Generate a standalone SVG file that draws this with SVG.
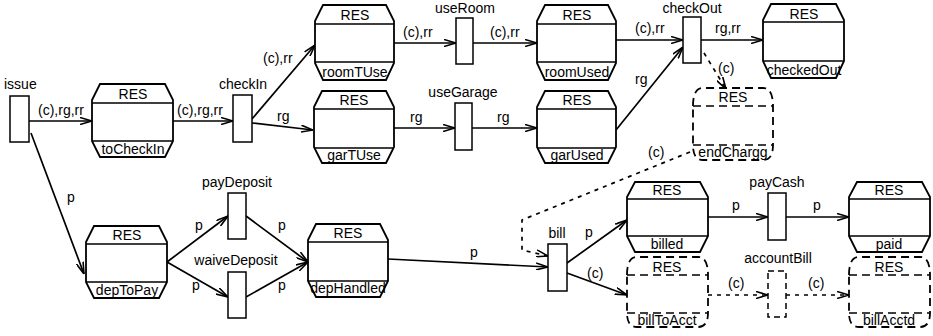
<svg xmlns="http://www.w3.org/2000/svg" width="933" height="336" viewBox="0 0 933 336">
<defs>
<marker id="ah" viewBox="0 0 12 8" refX="12" refY="4" markerWidth="12" markerHeight="8" markerUnits="userSpaceOnUse" orient="auto">
<path d="M0,0.5 L12,4 L0,7.5" fill="none" stroke="#000" stroke-width="1.6"/>
</marker>
<style>
text{font-family:"Liberation Sans",Arial,sans-serif;font-size:14px;fill:#000}
.c{text-anchor:middle}
.n{fill:#fff;stroke:#000;stroke-width:1.8}
.nl{stroke:#000;stroke-width:1.6;fill:none}
.d{fill:#fff;stroke:#000;stroke-width:1.8;stroke-dasharray:8 5}
.dl{stroke:#000;stroke-width:1.6;fill:none;stroke-dasharray:8 5}
.t{fill:#fff;stroke:#000;stroke-width:1.5}
.td{fill:#fff;stroke:#000;stroke-width:1.5;stroke-dasharray:6 4}
.a{fill:none;stroke:#000;stroke-width:1.7;marker-end:url(#ah)}
.ad{fill:none;stroke:#000;stroke-width:1.7;stroke-dasharray:4 5;marker-end:url(#ah)}
</style>
</defs>
<rect width="933" height="336" fill="#fff"/>

<g id="connectors">
<line class="a" x1="29" y1="121" x2="92" y2="121"/>
<text x="38" y="115">(c),rg,rr</text>
<line class="a" x1="173" y1="121" x2="233" y2="121"/>
<text x="177" y="115">(c),rg,rr</text>
<line class="a" x1="252" y1="119" x2="315" y2="45"/>
<text x="263" y="63">(c),rr</text>
<line class="a" x1="252" y1="123" x2="313" y2="130"/>
<text x="277" y="121">rg</text>
<line class="a" x1="394" y1="43" x2="456" y2="43"/>
<text x="403" y="37">(c),rr</text>
<line class="a" x1="473" y1="43" x2="537" y2="43"/>
<text x="490" y="37">(c),rr</text>
<line class="a" x1="394" y1="128" x2="455" y2="128"/>
<text x="410" y="122">rg</text>
<line class="a" x1="472" y1="128" x2="537" y2="128"/>
<text x="497" y="122">rg</text>
<line class="a" x1="616" y1="40" x2="683" y2="40"/>
<text x="635" y="33">(c),rr</text>
<line class="a" x1="616" y1="130" x2="683" y2="47"/>
<text x="635" y="84">rg</text>
<line class="a" x1="701" y1="40" x2="763" y2="40"/>
<text x="715" y="33">rg,rr</text>
<line class="ad" x1="704" y1="53" x2="726" y2="89"/>
<text x="718" y="73">(c)</text>
<polyline class="ad" points="690,152 522,220 522,250 548,256"/>
<text x="648" y="157">(c)</text>
<line class="a" x1="31" y1="133" x2="84" y2="274"/>
<text x="67" y="202">p</text>
<line class="a" x1="167" y1="262" x2="228" y2="216"/>
<text x="195" y="230">p</text>
<line class="a" x1="167" y1="262" x2="228" y2="297"/>
<text x="192" y="290">p</text>
<line class="a" x1="246" y1="216" x2="308" y2="262"/>
<text x="278" y="230">p</text>
<line class="a" x1="246" y1="297" x2="308" y2="262"/>
<text x="278" y="290">p</text>
<line class="a" x1="388" y1="259" x2="548" y2="267"/>
<text x="470" y="257">p</text>
<line class="a" x1="567" y1="263" x2="627" y2="220"/>
<text x="585" y="237">p</text>
<line class="a" x1="567" y1="273" x2="627" y2="295"/>
<text x="587" y="278">(c)</text>
<line class="a" x1="708" y1="217" x2="768" y2="217"/>
<text x="732" y="210">p</text>
<line class="a" x1="786" y1="217" x2="849" y2="217"/>
<text x="813" y="210">p</text>
<line class="ad" x1="708" y1="295" x2="768" y2="295"/>
<text x="728" y="288">(c)</text>
<line class="ad" x1="786" y1="295" x2="849" y2="295"/>
<text x="808" y="288">(c)</text>
</g>

<g id="issue"><rect class="t" x="10" y="96" width="19" height="46"/><text x="4" y="89">issue</text></g>
<g id="checkIn"><rect class="t" x="233" y="95" width="19" height="47"/><text class="c" x="243" y="89">checkIn</text></g>
<g id="useRoom"><rect class="t" x="456" y="18" width="17" height="46"/><text class="c" x="465" y="13">useRoom</text></g>
<g id="useGarage"><rect class="t" x="455" y="103" width="17" height="47"/><text class="c" x="463" y="97">useGarage</text></g>
<g id="checkOut"><rect class="t" x="683" y="17" width="18" height="46"/><text class="c" x="692" y="13">checkOut</text></g>
<g id="payDeposit"><rect class="t" x="228" y="193" width="18" height="46"/><text class="c" x="237" y="187">payDeposit</text></g>
<g id="waiveDeposit"><rect class="t" x="228" y="272" width="18" height="46"/><text class="c" x="236" y="265">waiveDeposit</text></g>
<g id="bill"><rect class="t" x="548" y="244" width="19" height="47"/><text class="c" x="557" y="238">bill</text></g>
<g id="payCash"><rect class="t" x="768" y="193" width="18" height="47"/><text class="c" x="777" y="187">payCash</text></g>
<g id="accountBill"><rect class="td" x="768" y="271" width="18" height="46"/><text class="c" x="778" y="263">accountBill</text></g>

<g id="toCheckIn"><path class="n" d="M100,84 H165 L173,100 V141 L165,157 H100 L92,141 V100 Z"/><path class="nl" d="M92,103 H173 M92,141 H173"/><text class="c" x="133" y="99">RES</text><text class="c" x="133" y="154">toCheckIn</text></g>
<g id="roomTUse"><path class="n" d="M323,5 H386 L394,21 V63 L386,80 H323 L315,63 V21 Z"/><path class="nl" d="M315,24 H394 M315,62 H394"/><text class="c" x="355" y="20">RES</text><text class="c" x="355" y="77">roomTUse</text></g>
<g id="garTUse"><path class="n" d="M322,91 H386 L394,107 V147 L386,163 H322 L314,147 V107 Z"/><path class="nl" d="M314,109 H394 M314,148 H394"/><text class="c" x="354" y="105">RES</text><text class="c" x="354" y="160">garTUse</text></g>
<g id="roomUsed"><path class="n" d="M545,5 H608 L616,21 V63 L608,80 H545 L537,63 V21 Z"/><path class="nl" d="M537,24 H616 M537,62 H616"/><text class="c" x="577" y="20">RES</text><text class="c" x="577" y="77">roomUsed</text></g>
<g id="garUsed"><path class="n" d="M545,91 H608 L616,107 V147 L608,163 H545 L537,147 V107 Z"/><path class="nl" d="M537,109 H616 M537,148 H616"/><text class="c" x="577" y="105">RES</text><text class="c" x="577" y="160">garUsed</text></g>
<g id="checkedOut"><path class="n" d="M771,4 H836 L844,20 V61 L836,78 H771 L763,61 V20 Z"/><path class="nl" d="M763,22 H844 M763,61 H844"/><text class="c" x="804" y="19">RES</text><text class="c" x="804" y="75">checkedOut</text></g>
<g id="endChargg"><path class="d" d="M693,106 Q693,88 703,88 H763 Q773,88 773,106 V145 Q773,160 763,160 H703 Q693,160 693,145 Z"/><path class="dl" d="M693,106 H773 M693,145 H773"/><text class="c" x="733" y="102">RES</text><text class="c" x="733" y="157">endChargg</text></g>
<g id="depToPay"><path class="n" d="M94,226 H159 L167,242 V282 L159,298 H94 L86,282 V242 Z"/><path class="nl" d="M86,244 H167 M86,282 H167"/><text class="c" x="127" y="240">RES</text><text class="c" x="127" y="295">depToPay</text></g>
<g id="depHandled"><path class="n" d="M316,224 H380 L388,240 V281 L380,297 H316 L308,281 V240 Z"/><path class="nl" d="M308,242 H388 M308,281 H388"/><text class="c" x="348" y="238">RES</text><text class="c" x="348" y="293">depHandled</text></g>
<g id="billed"><path class="n" d="M635,182 H700 L708,197 V236 L700,252 H635 L627,236 V197 Z"/><path class="nl" d="M627,199 H708 M627,236 H708"/><text class="c" x="667" y="195">RES</text><text class="c" x="667" y="249">billed</text></g>
<g id="paid"><path class="n" d="M857,182 H922 L930,197 V236 L922,252 H857 L849,236 V197 Z"/><path class="nl" d="M849,199 H930 M849,236 H930"/><text class="c" x="889" y="195">RES</text><text class="c" x="889" y="249">paid</text></g>
<g id="billToAcct"><path class="d" d="M627,275 Q627,257 637,257 H698 Q708,257 708,275 V313 Q708,327 698,327 H637 Q627,327 627,313 Z"/><path class="dl" d="M627,275 H708 M627,313 H708"/><text class="c" x="667" y="272">RES</text><text class="c" x="667" y="325">billToAcct</text></g>
<g id="billAcctd"><path class="d" d="M849,275 Q849,257 859,257 H920 Q930,257 930,275 V313 Q930,327 920,327 H859 Q849,327 849,313 Z"/><path class="dl" d="M849,275 H930 M849,313 H930"/><text class="c" x="889" y="272">RES</text><text class="c" x="889" y="325">billAcctd</text></g>
</svg>
